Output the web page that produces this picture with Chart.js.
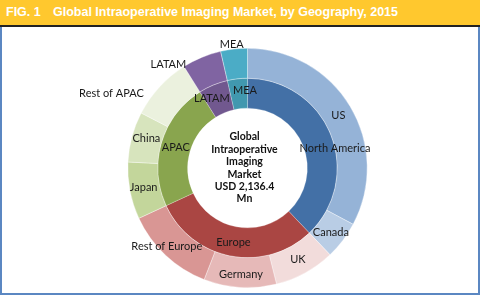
<!DOCTYPE html>
<html>
<head>
    <title>Global Intraoperative Imaging Market, by Geography, 2015</title>
    <script src="https://cdn.jsdelivr.net/npm/chart.js"></script>
    <style>
        body { margin: 0; width: 480px; height: 297px; background: #fff; overflow: hidden; font-family: Arial, "Liberation Sans", sans-serif; }
        #frame { position: absolute; left: 0; top: 0; width: 476px; height: 293px; border: 2px solid #5b87c2; border-top: none; }
        #header { position: absolute; left: 0; top: 0; width: 480px; height: 25px; background: #ffc82e; border-bottom: 2px solid #222; }
        #header span { position: absolute; top: 5px; color: #fff; font-weight: bold; font-size: 12.5px; }
        #wrap { position: absolute; left: 0; top: 0; width: 480px; height: 297px; }
    </style>
</head>
<body>
    <div id="frame"></div>
    <div id="header"><span style="left:6px">FIG. 1</span><span style="left:53px">Global Intraoperative Imaging Market, by Geography, 2015</span></div>
    <div id="wrap"><canvas id="chart"></canvas></div>
    <script>
        // share of the market (%)
        const countries = ['US', 'Canada', 'UK', 'Germany', 'Rest of Europe', 'Japan', 'China', 'Rest of APAC', 'LATAM', 'MEA'];
        const countryShare = [32.8, 5.1, 8.2, 9.8, 12.2, 7.7, 6.8, 8.5, 5.3, 3.6];
        const regions = ['North America', 'Europe', 'APAC', 'LATAM', 'MEA'];
        const regionShare = [37.9, 30.2, 23.0, 5.3, 3.6];
        const centerText = ['Global', 'Intraoperative', 'Imaging', 'Market', 'USD 2,136.4', 'Mn'];

        const countryColors = ['#95b3d7', '#b9cde5', '#f2dcdb', '#e6b9b8', '#d99694', '#c3d69b', '#d7e4bd', '#ebf1de', '#8064a2', '#4bacc6'];
        const regionColors = ['#4370a6', '#aa4643', '#89a54e', '#71588f', '#4198af'];

        // label nudges (px) from the middle of each slice
        const countryNudge = [[1, 1], [0, 1], [0, 0], [0, 2], [-9, 2], [-1, 0], [0, -2], [-59, -4], [-39, -7], [-4, -19]];
        const regionNudge = [[18, 8], [0, 1], [0, 1], [-7, 0], [6, -3]];

        const labelPlugin = {
            id: 'sliceLabels',
            afterDatasetsDraw(chart) {
                const ctx = chart.ctx;
                ctx.save();
                ctx.font = '11px Lato, "Open Sans", sans-serif';
                ctx.fillStyle = '#1a1a1a';
                ctx.textAlign = 'center';
                ctx.textBaseline = 'middle';
                const sets = [[countries, countryNudge], [regions, regionNudge]];
                sets.forEach(([names, nudge], di) => {
                    chart.getDatasetMeta(di).data.forEach((arc, i) => {
                        const p = arc.tooltipPosition();
                        ctx.fillText(names[i], p.x + nudge[i][0], p.y + nudge[i][1]);
                    });
                });
                const cx = chart.getDatasetMeta(0).data[0].x - 3;
                const cy = chart.getDatasetMeta(0).data[0].y;
                ctx.font = 'bold 10.5px Lato, "Open Sans", sans-serif';
                ctx.fillStyle = '#111';
                centerText.forEach((t, i) => {
                    ctx.fillText(t, cx, cy - 31 + i * 12.4);
                });
                ctx.restore();
            }
        };

        new Chart(document.getElementById('chart'), {
            type: 'doughnut',
            data: {
                labels: countries,
                datasets: [{
                    data: countryShare,
                    backgroundColor: countryColors,
                    borderColor: 'rgba(255,255,255,0.6)',
                    borderWidth: 0.6
                }, {
                    data: regionShare,
                    backgroundColor: regionColors,
                    borderColor: 'rgba(255,255,255,0.4)',
                    borderWidth: 0.6
                }]
            },
            options: {
                responsive: true,
                maintainAspectRatio: false,
                animation: false,
                cutout: '50%',
                layout: { padding: { left: 127, right: 112, top: 48, bottom: 9 } },
                plugins: { legend: { display: false }, tooltip: { enabled: false } }
            },
            plugins: [labelPlugin]
        });
    </script>
</body>
</html>
